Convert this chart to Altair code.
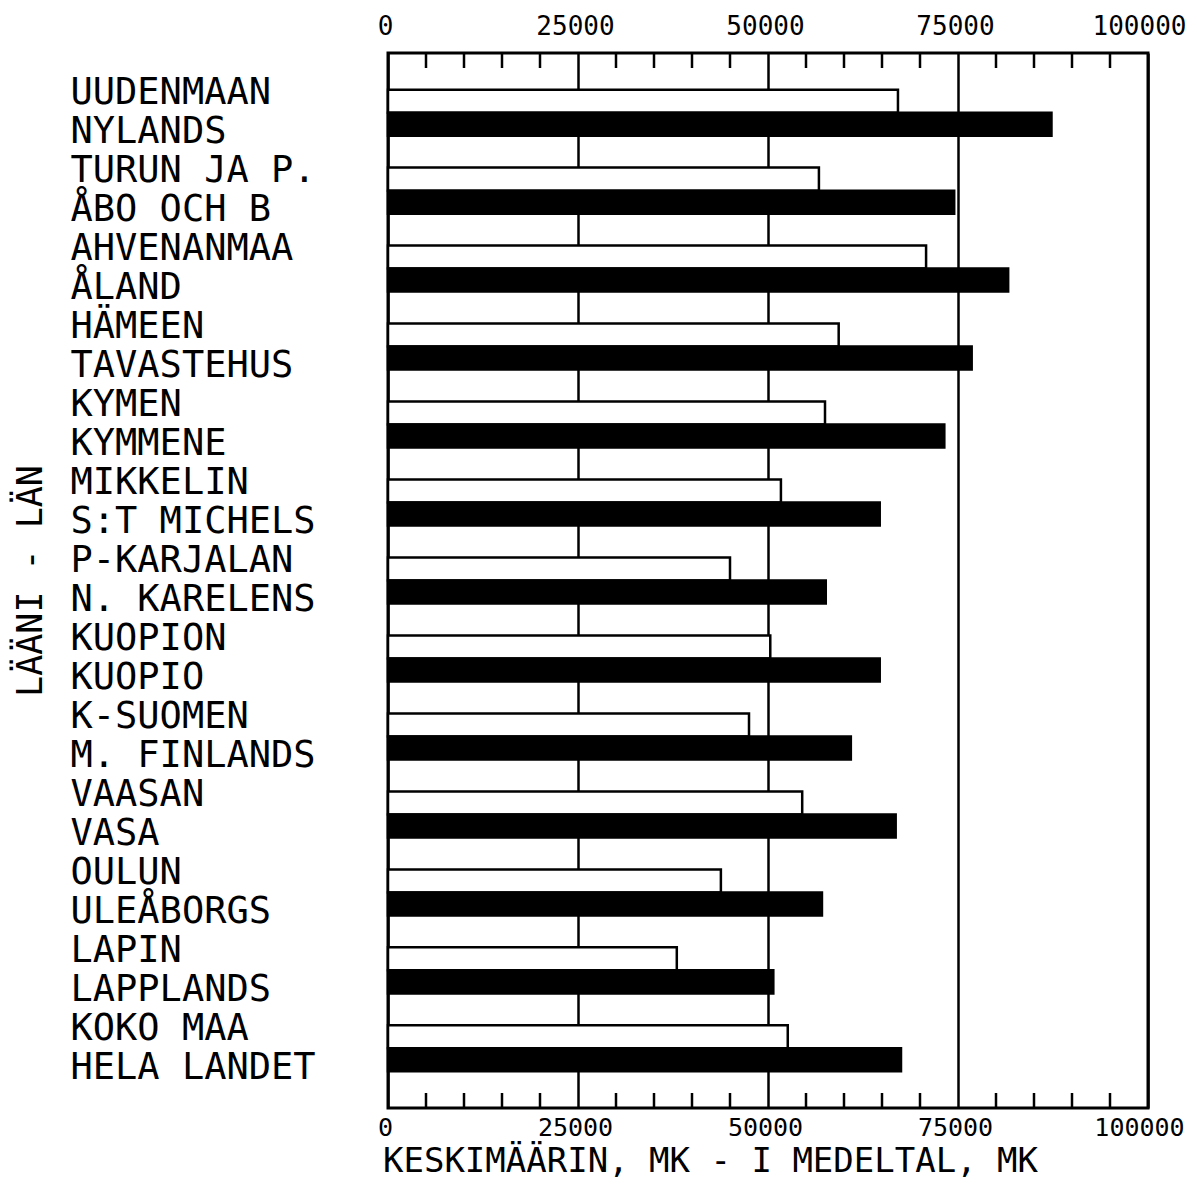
import altair as alt
import pandas as pd

fi_names = ["UUDENMAAN", "TURUN JA P.", "AHVENANMAA", "HÄMEEN", "KYMEN", "MIKKELIN",
            "P-KARJALAN", "KUOPION", "K-SUOMEN", "VAASAN", "OULUN", "LAPIN", "KOKO MAA"]
sv_names = ["NYLANDS", "ÅBO OCH B", "ÅLAND", "TAVASTEHUS", "KYMMENE", "S:T MICHELS",
            "N. KARELENS", "KUOPIO", "M. FINLANDS", "VASA", "ULEÅBORGS", "LAPPLANDS", "HELA LANDET"]
fi_values = [67100, 56700, 70800, 59300, 57500, 51700, 45000, 50300, 47500, 54500, 43800, 38000, 52600]
sv_values = [87300, 74500, 81600, 76800, 73200, 64700, 57600, 64700, 60900, 66800, 57100, 50700, 67500]
major_ticks = [0, 25000, 50000, 75000, 100000]
minor_ticks = [5000, 10000, 15000, 20000, 30000, 35000, 40000, 45000,
               55000, 60000, 65000, 70000, 80000, 85000, 90000, 95000]

rows = []
order = []
for f, s, fv, sv in zip(fi_names, sv_names, fi_values, sv_values):
    key = f + "|" + s
    order.append(key)
    rows.append({"region": key, "series": "fi", "value": fv})
    rows.append({"region": key, "series": "sv", "value": sv})
df = pd.DataFrame(rows)
tick_df = pd.DataFrame({"tick": minor_ticks})

W, H = 760, 1055
FONT = "DejaVu Sans Mono"
xscale = alt.Scale(domain=[0, 100000], nice=False, zero=True)
x_label_offset = {"condition": {"test": "datum.value == 100000", "value": -9},
                  "value": -3}

bars = alt.Chart(df).mark_bar(stroke="black", strokeWidth=2.5).encode(
    x=alt.X("value:Q", scale=xscale,
            axis=alt.Axis(orient="bottom", values=major_ticks, format="d",
                          grid=True, gridColor="black", gridWidth=2.5, gridOpacity=1,
                          ticks=False, tickSize=0, domain=False, labelFlush=False,
                          labelOffset=x_label_offset,
                          labelFont=FONT, labelFontSize=25, labelColor="black", labelPadding=7,
                          title="KESKIMÄÄRIN, MK - I MEDELTAL, MK",
                          titleFont=FONT, titleFontSize=34, titleFontWeight="normal",
                          titleColor="black", titleX=322, titleY=63,
                          titleAlign="center", titleBaseline="alphabetic")),
    y=alt.Y("region:N", sort=order,
            scale=alt.Scale(paddingInner=0.41, paddingOuter=0.47),
            axis=alt.Axis(orient="left", labelExpr="split(datum.label, '|')",
                          labelAlign="left", labelBaseline="middle", labelPadding=318,
                          labelOffset=-19.5,
                          labelFont=FONT, labelFontSize=37, labelLineHeight=39,
                          labelColor="black", labelLimit=500,
                          ticks=False, tickSize=0, domain=False, grid=False,
                          title="LÄÄNI - LÄN", titleFont=FONT, titleFontSize=35,
                          titleFontWeight="normal", titleColor="black",
                          titleX=-358, titleY=H / 2, titleAlign="center",
                          titleBaseline="middle")),
    yOffset=alt.YOffset("series:N", sort=["fi", "sv"],
                        scale=alt.Scale(paddingInner=0, paddingOuter=0)),
    fill=alt.Fill("series:N", scale=alt.Scale(domain=["fi", "sv"], range=["white", "black"]),
                  legend=None),
)

ticks_top = alt.Chart(tick_df).mark_rule(color="black", strokeWidth=2.5).encode(
    x=alt.X("tick:Q", scale=xscale,
            axis=alt.Axis(orient="top", values=major_ticks, format="d", grid=False,
                          ticks=False, tickSize=0, domain=False, labelFlush=False,
                          labelOffset=x_label_offset,
                          labelFont=FONT, labelFontSize=26, labelColor="black",
                          labelPadding=14, title=None)),
    y=alt.value(0), y2=alt.value(15),
)

ticks_bottom = alt.Chart(tick_df).mark_rule(color="black", strokeWidth=2.5).encode(
    x=alt.X("tick:Q", scale=xscale, axis=None),
    y=alt.value(H), y2=alt.value(H - 15),
)

chart = alt.layer(bars, ticks_top, ticks_bottom).resolve_axis(x="independent").properties(
    width=W, height=H,
    autosize=alt.AutoSizeParams(type="none"),
    padding={"left": 380, "top": 45, "right": 41, "bottom": 70},
).configure_view(stroke="black", strokeWidth=3)

chart.save("out.html", embed_options={"renderer": "svg", "actions": False})
